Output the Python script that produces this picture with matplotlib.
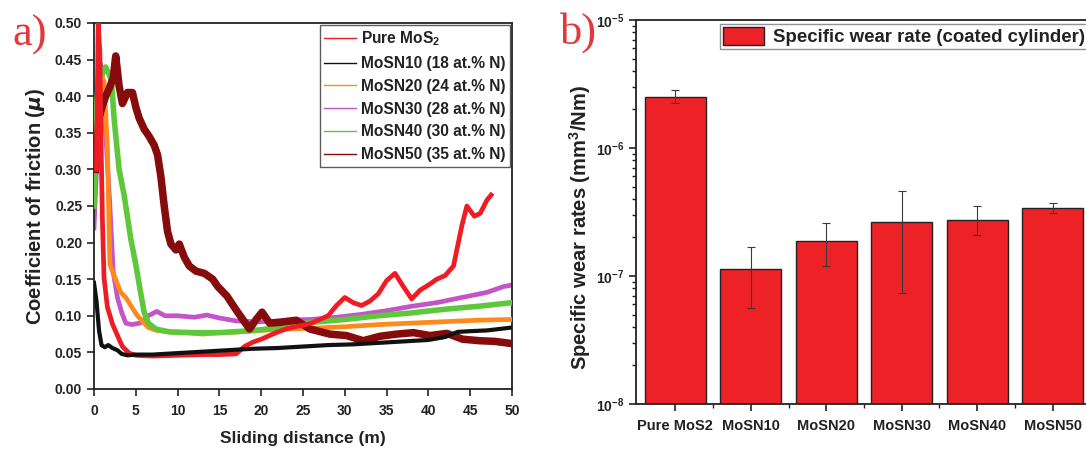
import matplotlib
matplotlib.use("Agg")
import matplotlib.pyplot as plt
from matplotlib.ticker import LogLocator, NullFormatter, FixedLocator
import numpy as np

plt.rcParams['font.family'] = ['Liberation Sans', 'DejaVu Sans']
plt.rcParams['font.weight'] = 'bold'
plt.rcParams['mathtext.default'] = 'regular'

# ---------------- (a) friction curves ----------------
pure_d = [0.3, 0.5, 0.7, 0.8, 1.0, 1.2, 1.6, 2.2, 3.0, 3.4, 4.2, 5, 7, 10, 13, 15, 17, 18, 19, 20, 21, 22, 23, 24, 25,
          26, 27, 28, 29, 30, 31, 32, 33, 34, 35, 36, 37, 38, 39, 40, 41, 42, 43, 44, 44.6, 45.5, 46.2, 47, 47.5]
pure_mu = [0.30, 0.50, 0.46, 0.37, 0.234, 0.152, 0.112, 0.089, 0.068, 0.058, 0.049, 0.046, 0.045, 0.046, 0.047, 0.047,
           0.048, 0.058, 0.064, 0.068, 0.073, 0.078, 0.082, 0.085, 0.087, 0.09, 0.095, 0.1, 0.114, 0.125, 0.118, 0.114,
           0.12, 0.13, 0.148, 0.158, 0.14, 0.123, 0.135, 0.142, 0.15, 0.155, 0.168, 0.223, 0.25, 0.236, 0.24, 0.258, 0.265]

n10_d = [0, 0.3, 0.6, 0.9, 1.3, 1.7, 2.2, 2.8, 3.3, 4, 5, 7, 10, 13, 16, 19, 22, 25, 28, 31, 34, 37, 40, 42, 43.5, 45,
         47, 50]
n10_mu = [0.145, 0.12, 0.08, 0.06, 0.057, 0.06, 0.056, 0.053, 0.048, 0.046, 0.047, 0.047, 0.049, 0.051, 0.053, 0.055,
          0.056, 0.058, 0.06, 0.061, 0.063, 0.065, 0.067, 0.071, 0.078, 0.079, 0.08, 0.084]

n20_d = [0, 0.4, 0.8, 1.2, 1.6, 1.9, 2.4, 3.2, 3.8, 4.4, 5.2, 6.5, 7.5, 9, 11, 13, 15, 17, 20, 23, 26, 30, 34, 38, 42,
         46, 50]
n20_mu = [0.25, 0.40, 0.43, 0.42, 0.33, 0.17, 0.155, 0.132, 0.125, 0.114, 0.1, 0.084, 0.08, 0.078, 0.077, 0.075, 0.077,
          0.078, 0.08, 0.082, 0.083, 0.085, 0.088, 0.09, 0.092, 0.094, 0.095]

n30_d = [0, 0.3, 0.6, 0.9, 1.2, 1.5, 1.9, 2.3, 2.8, 3.3, 3.8, 4.5, 5.5, 6.5, 7.5, 8.5, 10, 12, 13.5, 15, 17, 19, 21, 23,
         26, 29, 32, 35, 38, 41, 44, 47, 49, 50]
n30_mu = [0.22, 0.30, 0.45, 0.44, 0.38, 0.33, 0.25, 0.16, 0.125, 0.105, 0.09, 0.088, 0.09, 0.1, 0.106, 0.1, 0.1, 0.098,
          0.101, 0.097, 0.093, 0.092, 0.092, 0.094, 0.095, 0.098, 0.102, 0.107, 0.113, 0.118, 0.125, 0.132, 0.14, 0.142]

n40_d = [0, 0.3, 0.6, 1.0, 1.4, 1.8, 2.1, 2.4, 3.0, 3.6, 4.4, 5.0, 5.6, 6.0, 6.5, 7.4, 9, 12, 15, 18, 20, 23, 26, 30,
         34, 38, 42, 46, 50]
n40_mu = [0.25, 0.38, 0.44, 0.43, 0.44, 0.43, 0.42, 0.37, 0.30, 0.265, 0.205, 0.17, 0.13, 0.105, 0.09, 0.082, 0.078,
          0.077, 0.077, 0.079, 0.081, 0.086, 0.091, 0.095, 0.1, 0.104, 0.109, 0.113, 0.118]

n50_d = [0.2, 0.6, 1.0, 1.4, 1.8, 2.3, 2.6, 3.0, 3.4, 4.0, 4.6, 5.0, 5.4, 6.0, 6.6, 7.2, 7.6, 8.0, 8.4, 8.8, 9.2, 9.8,
         10.2, 10.8, 11.4, 12.2, 13.2, 14.2, 14.8, 15.9, 17, 18.6, 19.4, 20.1, 21, 22.2, 24.2, 25.8, 28.2, 30.2, 32.2,
         34.2, 36.2, 38.2, 40.2, 42.2, 44.1, 46.1, 48, 50]
n50_mu = [0.30, 0.37, 0.387, 0.40, 0.41, 0.425, 0.455, 0.414, 0.39, 0.405, 0.405, 0.385, 0.37, 0.355, 0.345, 0.333,
          0.32, 0.29, 0.25, 0.215, 0.198, 0.19, 0.198, 0.18, 0.168, 0.161, 0.158, 0.15, 0.14, 0.127, 0.108, 0.082,
          0.095, 0.105, 0.09, 0.091, 0.094, 0.082, 0.075, 0.073, 0.066, 0.072, 0.075, 0.077, 0.073, 0.076, 0.068,
          0.066, 0.065, 0.062]

series_labels = ['Pure MoS$_2$', 'MoSN10 (18 at.% N)', 'MoSN20 (24 at.% N)', 'MoSN30 (28 at.% N)',
                 'MoSN40 (30 at.% N)', 'MoSN50 (35 at.% N)']
series_colors = ['#ee1c24', '#111111', '#ff8a1c', '#c455c8', '#5ec83a', '#860b0b']

# ---------------- (b) wear rates ----------------
samples = ['Pure MoS2', 'MoSN10', 'MoSN20', 'MoSN30', 'MoSN40', 'MoSN50']
wear = [2.5e-6, 1.13e-7, 1.87e-7, 2.62e-7, 2.75e-7, 3.4e-7]
wear_low = [2.25e-6, 5.6e-8, 1.2e-7, 7.4e-8, 2.1e-7, 3.1e-7]
wear_high = [2.85e-6, 1.7e-7, 2.6e-7, 4.6e-7, 3.5e-7, 3.7e-7]

fig = plt.figure(figsize=(10.86, 4.55), dpi=100)
TXT = '#222222'

# ---- panel a ----
ax1 = fig.add_axes([94 / 1086, 1 - 389 / 455, 418 / 1086, 366 / 455])
curves = [(pure_d, pure_mu), (n10_d, n10_mu), (n20_d, n20_mu), (n30_d, n30_mu), (n40_d, n40_mu), (n50_d, n50_mu)]
zorders = [6, 7, 3, 2, 4, 5]
widths = [3.4, 3.0, 3.4, 3.4, 4.0, 5.4]
for (d, m), lab, c, z, w in zip(curves, series_labels, series_colors, zorders, widths):
    ax1.plot(d, m, color=c, lw=w, label=lab, zorder=z, solid_joinstyle='round')
ax1.set_xlim(0, 50)
ax1.set_ylim(0, 0.5)
ax1.set_xticks(np.arange(0, 51, 5))
ax1.set_yticks(np.arange(0, 0.51, 0.05))
ax1.set_yticklabels([f'{v:.2f}' for v in np.arange(0, 0.51, 0.05)])
ax1.tick_params(direction='out', length=5, width=1.2, labelsize=10, colors=TXT)
ax1.tick_params(axis='x', pad=6)
ax1.set_xlabel('Sliding distance (m)', fontsize=12.5, fontweight='bold', color=TXT, labelpad=9)
ax1.set_ylabel(r'Coefficient of friction ($\mathit{\mu}$)', fontsize=14.5, fontweight='bold', color=TXT,
               labelpad=6)
for s in ax1.spines.values():
    s.set_linewidth(1.3)
    s.set_color(TXT)
leg1 = ax1.legend(loc='upper right', fontsize=11.2, frameon=True, fancybox=False, edgecolor='#333333',
                  handlelength=2.05, handletextpad=0.3, labelspacing=0.5, borderpad=0.3,
                  borderaxespad=0.12)
for lh in leg1.get_lines():
    lh.set_linewidth(1.0)
leg1.get_frame().set_linewidth(1.0)
for t in leg1.get_texts():
    t.set_color(TXT)

# ---- panel b ----
ax2 = fig.add_axes([636 / 1086, 1 - 404 / 455, 456 / 1086, 384 / 455])
x = np.arange(len(samples))
yerr = [np.array(wear) - np.array(wear_low), np.array(wear_high) - np.array(wear)]
ax2.bar(x, wear, width=0.81, color='#ec2227', edgecolor='#222222', linewidth=1.0,
        label='Specific wear rate (coated cylinder)', zorder=2)
ax2.errorbar(x, wear, yerr=yerr, fmt='none', ecolor='#3a3a3a', elinewidth=0.8, capsize=3, capthick=0.8, zorder=3)
ax2.set_yscale('log')
ax2.set_ylim(1e-8, 1e-5)
ax2.set_xlim(-0.52, 5.52)
ax2.yaxis.set_major_locator(FixedLocator([1e-8, 1e-7, 1e-6, 1e-5]))
ax2.set_yticklabels(['10$^{-8}$', '10$^{-7}$', '10$^{-6}$', '10$^{-5}$'])
ax2.yaxis.set_minor_locator(LogLocator(base=10, subs=np.arange(2, 10)))
ax2.yaxis.set_minor_formatter(NullFormatter())
ax2.set_xticks(x)
ax2.set_xticklabels(samples)
ax2.xaxis.set_minor_locator(FixedLocator(x[:-1] + 0.5))
ax2.tick_params(axis='both', which='major', direction='out', length=5, width=1.2, labelsize=10, colors=TXT)
ax2.tick_params(axis='y', which='minor', direction='out', length=3, width=1.0, colors=TXT)
ax2.tick_params(axis='x', which='minor', direction='out', length=3, width=1.0, colors=TXT)
ax2.tick_params(axis='x', which='major', labelsize=10.5, pad=6)
ax2.set_ylabel('Specific wear rates (mm$^3$/Nm)', fontsize=14.5, fontweight='bold', color=TXT)
ax2.yaxis.set_label_coords(-0.095, 0.46)
for s in ax2.spines.values():
    s.set_linewidth(1.3)
    s.set_color(TXT)
leg2 = ax2.legend(loc='upper right', fontsize=13.4, frameon=True, fancybox=False, edgecolor='#777777',
                  handlelength=2.2, handleheight=1.15, handletextpad=0.5, borderpad=0.15, borderaxespad=0.2)
leg2.get_frame().set_linewidth(1.0)
for t in leg2.get_texts():
    t.set_color(TXT)

# panel letters
fig.text(12 / 1086, 1 - 46 / 455, 'a)', family='Liberation Serif', fontsize=32, color='#e03a3e',
         fontweight='normal', va='baseline', ha='left')
fig.text(560 / 1086, 1 - 44 / 455, 'b)', family='Liberation Serif', fontsize=32, color='#e03a3e',
         fontweight='normal', va='baseline', ha='left')

fig.savefig('out.png', dpi=100)
